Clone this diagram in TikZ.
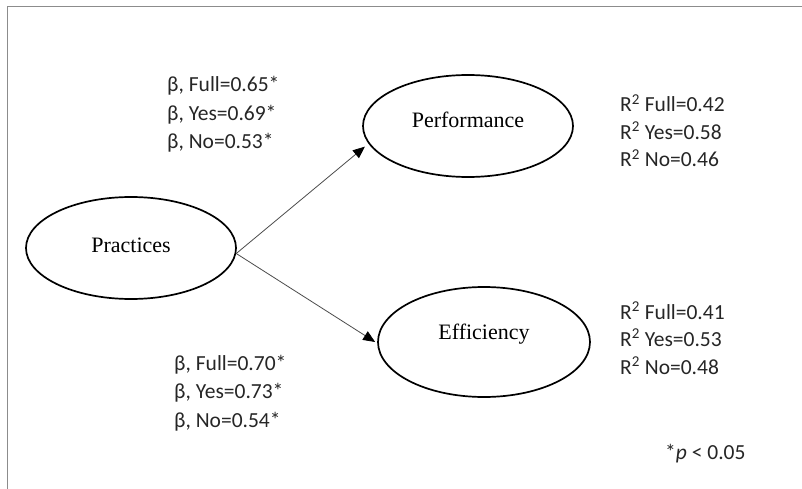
\documentclass[tikz,border=0pt]{standalone}
\usepackage{fontspec}
\setmainfont{Carlito}
\newfontfamily\labelserif{Liberation Serif}
\usetikzlibrary{arrows.meta,shapes.geometric}
\begin{document}
\begin{tikzpicture}[x=1pt,y=-1pt,
  latent/.style={ellipse, draw=black, line width=1.7pt, inner sep=0pt,
    font=\labelserif\fontsize{22}{26}\selectfont, text height=15pt},
  stat/.style={anchor=base west, inner sep=0pt, font=\fontsize{21.5}{26}\selectfont, text=black!85},
  path/.style={draw=black!70, line width=0.8pt, -{Triangle[length=12pt,width=10pt,color=black]}},
  frame/.style={draw=black!45, line width=1pt}]
\useasboundingbox (0,0) rectangle (802,489);
\fill[white] (0,0) rectangle (802,489);
\draw[frame] (7,489) -- (7,7) -- (802,7);

\node[latent, minimum width=210pt, minimum height=102pt, text depth=6.5pt] (prac) at (131,248) {Practices};
\node[latent, minimum width=210pt, minimum height=102pt, text depth=12pt] (perf) at (468,126) {Performance};
\node[latent, minimum width=212pt, minimum height=110pt, text depth=20pt] (eff) at (484,342) {Efficiency};

\draw[path] (prac.-3) -- ([xshift=-6pt]perf.192);
\draw[path] (prac.-3) -- ([xshift=-2pt]eff.west);

\node[stat] (b1) at (167,92) {β, Full=0.65*};
\node[stat] (b2) at (167,120.5) {β, Yes=0.69*};
\node[stat] (b3) at (167,149) {β, No=0.53*};

\node[stat] (r1) at (620,112) {R\textsuperscript{2} Full=0.42};
\node[stat] (r2) at (620,139.5) {R\textsuperscript{2} Yes=0.58};
\node[stat] (r3) at (620,167) {R\textsuperscript{2} No=0.46};

\node[stat] (s1) at (620,319) {R\textsuperscript{2} Full=0.41};
\node[stat] (s2) at (620,346.5) {R\textsuperscript{2} Yes=0.53};
\node[stat] (s3) at (620,374) {R\textsuperscript{2} No=0.48};

\node[stat] (c1) at (174,370) {β, Full=0.70*};
\node[stat] (c2) at (174,398.5) {β, Yes=0.73*};
\node[stat] (c3) at (174,427) {β, No=0.54*};

\node[stat] (pv) at (665,459) {*\textit{p} < 0.05};
\end{tikzpicture}
\end{document}
